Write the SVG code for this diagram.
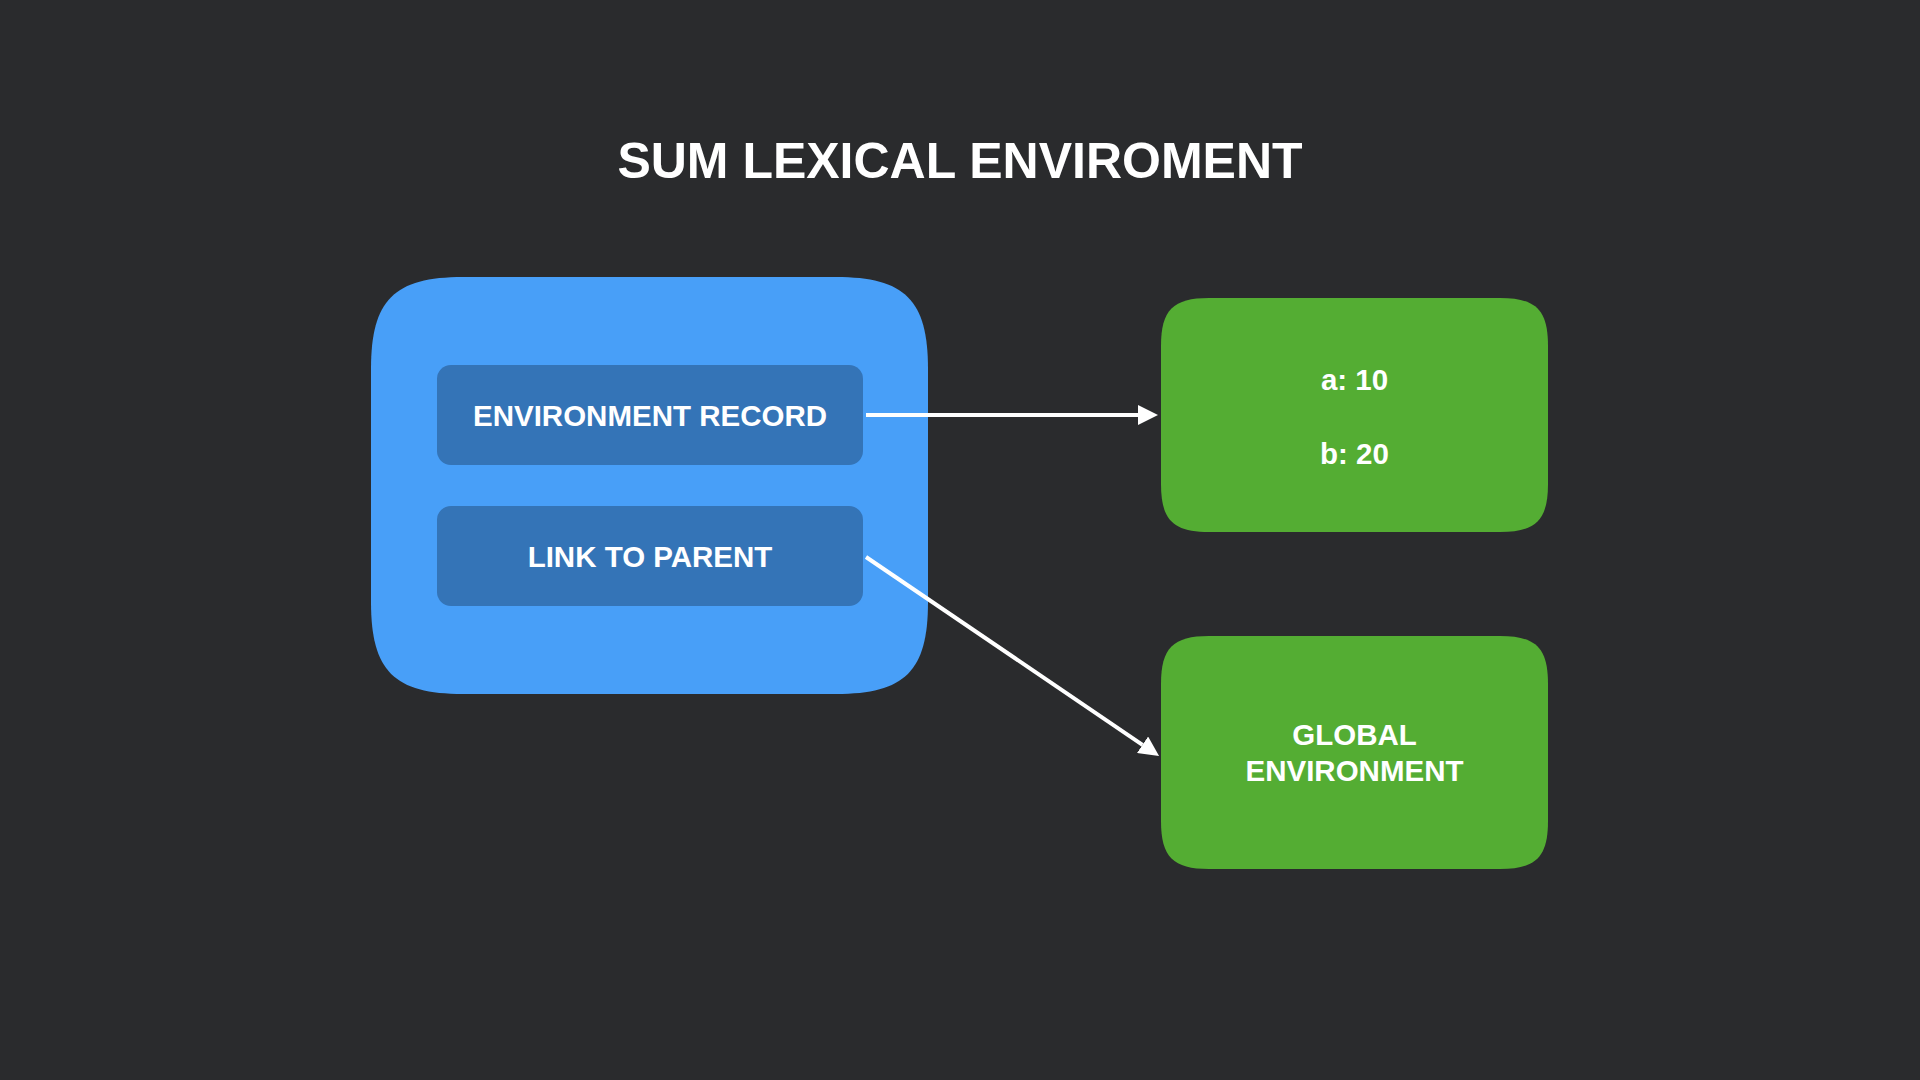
<svg xmlns="http://www.w3.org/2000/svg" width="1920" height="1080" viewBox="0 0 1920 1080">
<defs>
<style>
.t{font-family:"Liberation Sans",Arial,Helvetica,sans-serif;font-weight:bold;fill:#ffffff;text-anchor:middle}
.inner{fill:#3474B7}
.green{fill:#54AD33}
.conn{stroke:#ffffff;stroke-width:4;fill:none}
</style>
<marker id="arr" viewBox="0 0 20 20" refX="0" refY="10" markerWidth="20" markerHeight="20" markerUnits="userSpaceOnUse" orient="auto">
<path d="M0,0 L20,10 L0,20 z" fill="#ffffff"/>
</marker>
</defs>
<rect width="1920" height="1080" fill="#2A2B2D"/>
<text id="title" class="t" x="960" y="178" font-size="50">SUM LEXICAL ENVIROMENT</text>
<g id="lexical-env">
<path d="M463,277 H836 C905,277 928,300 928,369 V602 C928,671 905,694 836,694 H463 C394,694 371,671 371,602 V369 C371,300 394,277 463,277 Z" fill="#489FF8"/>
</g>
<g id="env-record">
<rect class="inner" x="437" y="365" width="426" height="100" rx="14"/>
<text class="t" x="650" y="426" font-size="29.5">ENVIRONMENT RECORD</text>
</g>
<g id="link-parent">
<rect class="inner" x="437" y="506" width="426" height="100" rx="14"/>
<text class="t" x="650" y="567" font-size="29.5">LINK TO PARENT</text>
</g>
<g id="record-values">
<path class="green" d="M1209,298 H1500 C1536,298 1548,310 1548,346 V484 C1548,520 1536,532 1500,532 H1209 C1173,532 1161,520 1161,484 V346 C1161,310 1173,298 1209,298 Z"/>
<text class="t" x="1354.5" y="390" font-size="29.5">a: 10</text>
<text class="t" x="1354.5" y="464" font-size="29.5">b: 20</text>
</g>
<g id="global-env">
<path class="green" d="M1209,636 H1500 C1536,636 1548,648 1548,684 V821 C1548,857 1536,869 1500,869 H1209 C1173,869 1161,857 1161,821 V684 C1161,648 1173,636 1209,636 Z"/>
<text class="t" x="1354.5" y="745" font-size="29.5">GLOBAL</text>
<text class="t" x="1354.5" y="781" font-size="29.5">ENVIRONMENT</text>
</g>
<g id="connectors">
<line class="conn" x1="866" y1="415" x2="1138" y2="415" marker-end="url(#arr)"/>
<line class="conn" x1="866" y1="557" x2="1142.5" y2="744.8" marker-end="url(#arr)"/>
</g>
</svg>
